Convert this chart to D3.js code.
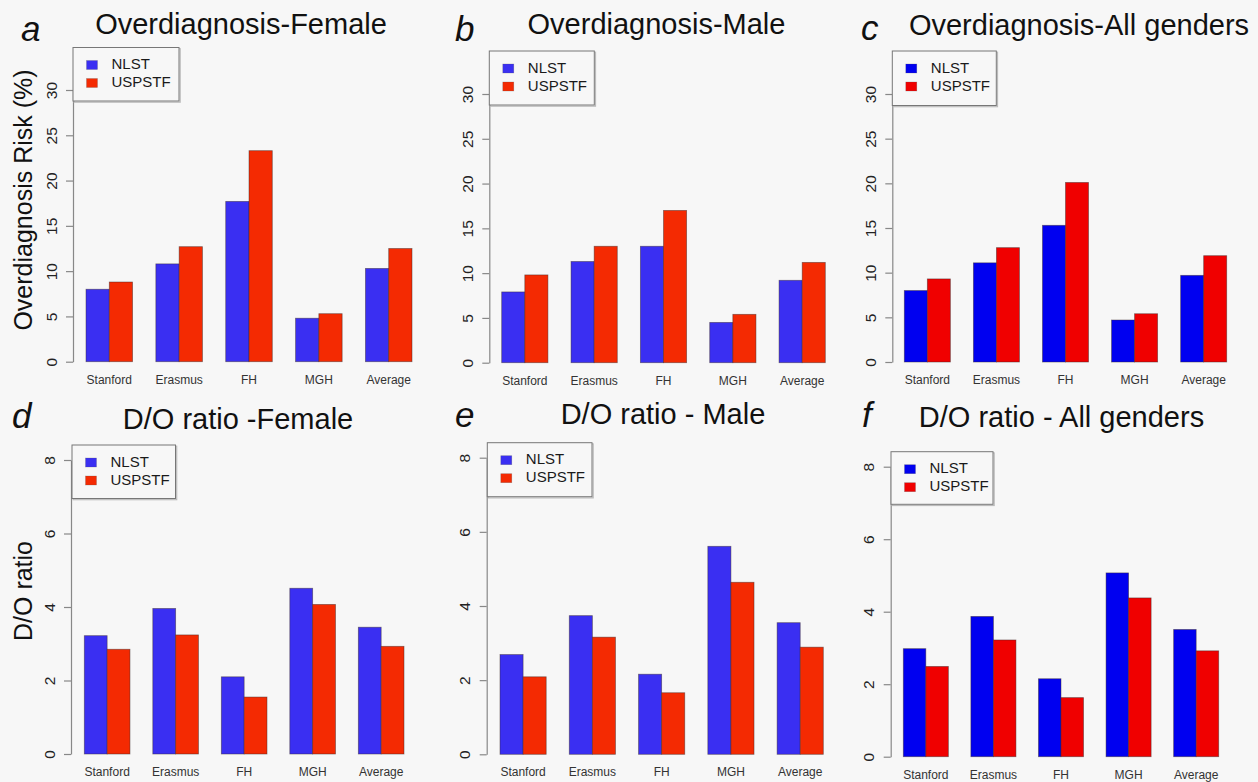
<!DOCTYPE html>
<html>
<head>
<meta charset="utf-8">
<script src="https://cdn.jsdelivr.net/npm/d3@7"></script>
<style>
  html, body { margin: 0; padding: 0; background: #f7f7f7; }
  svg { display: block; }
  text { font-family: "Liberation Sans", Arial, Helvetica, sans-serif; }
</style>
</head>
<body>
<svg id="chart" width="1258" height="782"></svg>
<script>
// ---------------- data ----------------
const categories = ["Stanford", "Erasmus", "FH", "MGH", "Average"];
const seriesNames = ["NLST", "USPSTF"];

const odFemaleNLST   = [8.0, 10.8, 17.7, 4.8, 10.3];
const odFemaleUSPSTF = [8.8, 12.7, 23.3, 5.3, 12.5];
const odMaleNLST     = [7.9, 11.3, 13.0, 4.5, 9.2];
const odMaleUSPSTF   = [9.8, 13.0, 17.0, 5.4, 11.2];
const odAllNLST      = [8.0, 11.1, 15.3, 4.7, 9.7];
const odAllUSPSTF    = [9.3, 12.8, 20.1, 5.4, 11.9];

const doFemaleNLST   = [3.22, 3.96, 2.10, 4.51, 3.45];
const doFemaleUSPSTF = [2.85, 3.24, 1.55, 4.07, 2.93];
const doMaleNLST     = [2.69, 3.74, 2.16, 5.61, 3.55];
const doMaleUSPSTF   = [2.09, 3.16, 1.66, 4.64, 2.89];
const doAllNLST      = [2.98, 3.87, 2.15, 5.07, 3.51];
const doAllUSPSTF    = [2.49, 3.22, 1.63, 4.38, 2.92];

const odTicks = [0, 5, 10, 15, 20, 25, 30];
const doTicks = [0, 2, 4, 6, 8];

const titles = ["Overdiagnosis-Female", "Overdiagnosis-Male", "Overdiagnosis-All genders",
                "D/O ratio -Female", "D/O ratio - Male", "D/O ratio - All genders"];
const letters = ["a", "b", "c", "d", "e", "f"];
const yLabels = ["Overdiagnosis Risk (%)", "", "", "D/O ratio", "", ""];

// ---------------- layout (positions / styles) ----------------
const softColors = ["#3a2ff2", "#f42a02"];
const pureColors = ["#0000f0", "#f00000"];

const panels = [
  { values: [odFemaleNLST, odFemaleUSPSTF], ticks: odTicks, colors: softColors,
    axisX: 73, y0: 361.7, yTop: 90, x0: 86, x1: 412,
    legend: [73, 47.5, 106, 53.5], title: [241, 33.5], letter: [21, 40.5], ylab: [31.5, 200] },
  { values: [odMaleNLST, odMaleUSPSTF], ticks: odTicks, colors: softColors,
    axisX: 489.3, y0: 362.7, yTop: 94, x0: 501.7, x1: 825.3,
    legend: [489.3, 51, 105, 54], title: [656.5, 33.5], letter: [455, 40.5] },
  { values: [odAllNLST, odAllUSPSTF], ticks: odTicks, colors: pureColors,
    axisX: 892.3, y0: 362, yTop: 94, x0: 904.3, x1: 1226.7,
    legend: [892.3, 51, 104, 54.5], title: [1079, 35], letter: [861, 40] },
  { values: [doFemaleNLST, doFemaleUSPSTF], ticks: doTicks, colors: softColors,
    axisX: 71, y0: 754, yTop: 460, x0: 84.3, x1: 404,
    legend: [72, 445, 103.5, 53.5], title: [238, 429.3], letter: [12, 428.3], ylab: [31.5, 591] },
  { values: [doMaleNLST, doMaleUSPSTF], ticks: doTicks, colors: softColors,
    axisX: 486.7, y0: 754.3, yTop: 457.7, x0: 500, x1: 823.3,
    legend: [487.3, 442.7, 104.7, 54], title: [663, 424.3], letter: [455, 427] },
  { values: [doAllNLST, doAllUSPSTF], ticks: doTicks, colors: pureColors,
    axisX: 890.7, y0: 756.7, yTop: 466.7, x0: 903.3, x1: 1218.7,
    legend: [891, 451.7, 102, 52.6], title: [1061.5, 427.3], letter: [862, 427] }
];

// ---------------- drawing ----------------
const svg = d3.select("#chart");
svg.append("rect").attr("width", 1258).attr("height", 782).attr("fill", "#f7f7f7");

panels.forEach((p, i) => {
  const g = svg.append("g");
  const maxTick = p.ticks[p.ticks.length - 1];
  const y = d3.scaleLinear().domain([0, maxTick]).range([p.y0, p.yTop]);
  const xGroup = d3.scaleBand().domain(categories).range([p.x0, p.x1])
    .paddingInner(1 / 3).paddingOuter(0);
  const xSub = d3.scaleBand().domain(seriesNames).range([0, xGroup.bandwidth()]);

  // bars
  const rows = categories.map((c, ci) => ({ cat: c,
    vals: seriesNames.map((s, si) => ({ s, si, v: p.values[si][ci] })) }));
  const grp = g.selectAll("g.grp").data(rows).join("g")
    .attr("transform", d => `translate(${xGroup(d.cat)},0)`);
  grp.selectAll("rect").data(d => d.vals).join("rect")
    .attr("x", d => xSub(d.s))
    .attr("y", d => y(d.v))
    .attr("width", xSub.bandwidth())
    .attr("height", d => y(0) - y(d.v))
    .attr("fill", d => p.colors[d.si])
    .attr("stroke", "#3a2a2a")
    .attr("stroke-opacity", 0.55)
    .attr("stroke-width", 0.8);

  // category labels
  g.selectAll("text.cat").data(categories).join("text")
    .attr("class", "cat")
    .attr("x", d => xGroup(d) + xGroup.bandwidth() / 2)
    .attr("y", p.y0 + 22)
    .attr("text-anchor", "middle")
    .attr("font-size", 12)
    .attr("fill", "#333")
    .text(d => d);

  // y axis
  const axis = d3.axisLeft(y).tickValues(p.ticks).tickSize(7).tickSizeOuter(0)
    .tickFormat(d3.format("d"));
  const ag = g.append("g").attr("transform", `translate(${p.axisX},0)`).call(axis);
  ag.select(".domain").attr("stroke", "#888").attr("stroke-width", 1.2);
  ag.selectAll(".tick line").attr("stroke", "#888").attr("stroke-width", 1.2);
  ag.selectAll(".tick text")
    .attr("x", null).attr("dy", null)
    .attr("transform", "translate(-16.3,0) rotate(-90)")
    .attr("text-anchor", "middle")
    .attr("font-size", 15.5)
    .attr("font-family", "\"Liberation Sans\", Arial, sans-serif")
    .attr("fill", "#222");

  // legend
  const [lx, ly, lw, lh] = p.legend;
  const lg = g.append("g").attr("transform", `translate(${lx},${ly})`);
  lg.append("rect").attr("x", 1.2).attr("y", 1.2).attr("width", lw).attr("height", lh)
    .attr("fill", "none").attr("stroke", "#bbb").attr("stroke-width", 1.2);
  lg.append("rect").attr("width", lw).attr("height", lh)
    .attr("fill", "#f7f7f7").attr("stroke", "#777").attr("stroke-width", 1);
  seriesNames.forEach((s, si) => {
    lg.append("rect").attr("x", 13.5).attr("y", 13 + si * 18)
      .attr("width", 11).attr("height", 9)
      .attr("fill", p.colors[si]).attr("stroke", "#555").attr("stroke-opacity", 0.4)
      .attr("stroke-width", 0.6);
    lg.append("text").attr("x", 38.5).attr("y", 21.5 + si * 18)
      .attr("font-size", 15).attr("fill", "#1a1a1a").text(s);
  });

  // title
  g.append("text").attr("x", p.title[0]).attr("y", p.title[1])
    .attr("text-anchor", "middle").attr("font-size", 29).attr("fill", "#111")
    .text(titles[i]);

  // panel letter
  g.append("text").attr("x", p.letter[0]).attr("y", p.letter[1])
    .attr("font-size", 35).attr("font-style", "italic").attr("fill", "#111")
    .text(letters[i]);

  // y label
  if (p.ylab) {
    g.append("text")
      .attr("transform", `translate(${p.ylab[0]},${p.ylab[1]}) rotate(-90)`)
      .attr("text-anchor", "middle").attr("font-size", 25).attr("fill", "#111")
      .text(yLabels[i]);
  }
});
</script>
</body>
</html>
